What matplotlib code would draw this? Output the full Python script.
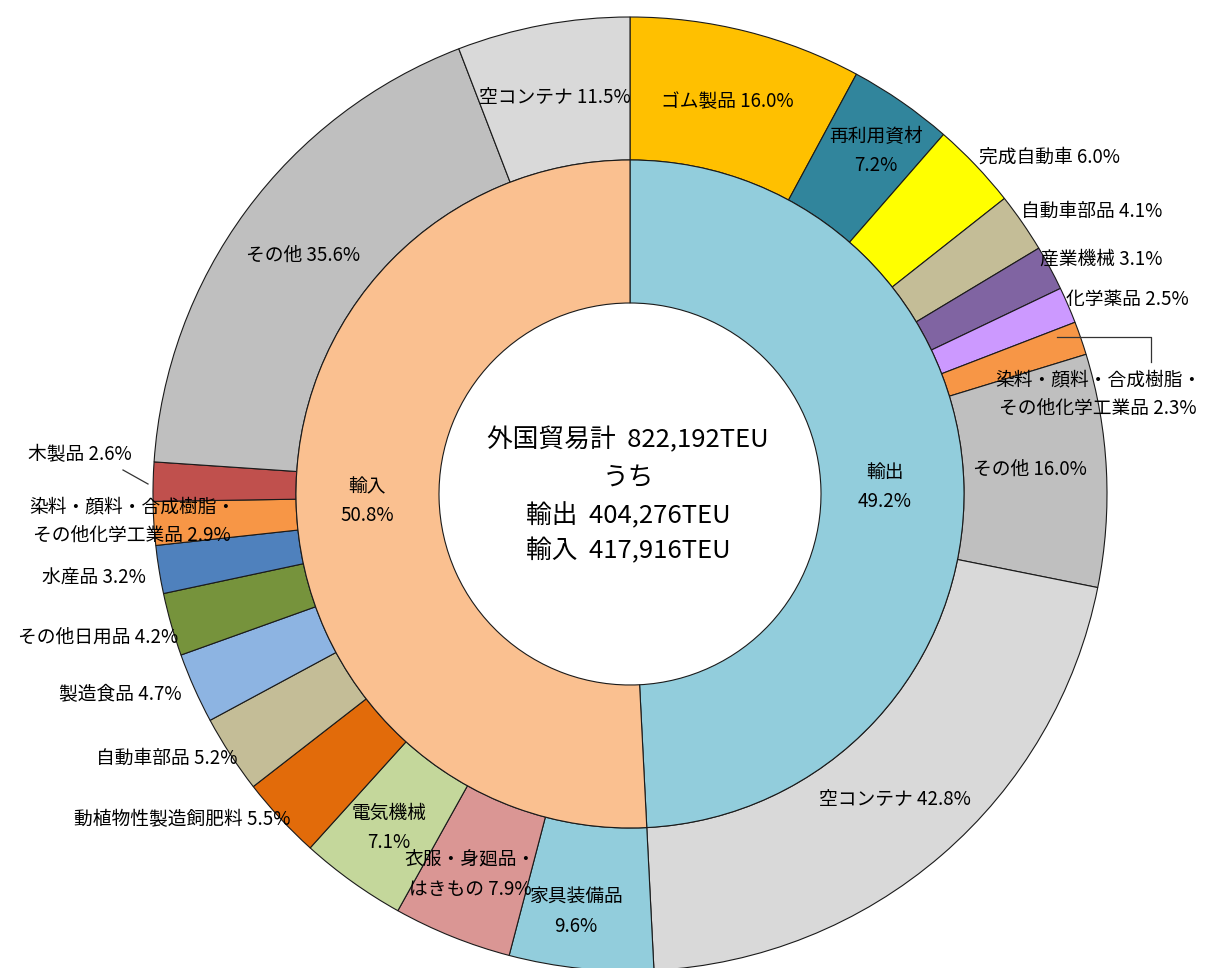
import matplotlib
matplotlib.use("Agg")
import matplotlib.pyplot as plt

plt.rcParams['font.family'] = ['Noto Sans CJK JP', 'DejaVu Sans']

# ---- data ----
inner_labels = ["輸出", "輸入"]
inner_values = [49.2, 50.8]
inner_colors = ["#92CDDC", "#FAC090"]

export_labels = ["ゴム製品", "再利用資材", "完成自動車", "自動車部品", "産業機械", "化学薬品",
                 "染料・顔料・合成樹脂・\nその他化学工業品", "その他", "空コンテナ"]
export_values = [16.0, 7.2, 6.0, 4.1, 3.1, 2.5, 2.3, 16.0, 42.8]
export_colors = ["#FFC000", "#31859C", "#FFFF00", "#C4BD97", "#8064A2", "#CC99FF",
                 "#F79646", "#BFBFBF", "#D9D9D9"]

import_labels = ["家具装備品", "衣服・身廻品・\nはきもの", "電気機械", "動植物性製造飼肥料", "自動車部品",
                 "製造食品", "その他日用品", "水産品", "染料・顔料・合成樹脂・\nその他化学工業品",
                 "木製品", "その他", "空コンテナ"]
import_values = [9.6, 7.9, 7.1, 5.5, 5.2, 4.7, 4.2, 3.2, 2.9, 2.6, 35.6, 11.5]
import_colors = ["#92CDDC", "#DA9694", "#C4D79B", "#E26B0A", "#C4BD97", "#8DB4E2",
                 "#76933C", "#4F81BD", "#F79646", "#C0504D", "#BFBFBF", "#D9D9D9"]

center_lines = ["外国貿易計  822,192TEU", "うち", "輸出  404,276TEU", "輸入  417,916TEU"]

# ---- layout (pixel coordinates, y from top) ----
H = 968
CX, CY = 630, 494
R_OUT, R_MID, R_HOLE = 477, 334, 191

def Y(y):
    return H - y

fig = plt.figure(figsize=(12.05, 9.68), dpi=100)
ax = fig.add_axes([0, 0, 1, 1])

outer_values = [v * inner_values[0] / 100 for v in export_values] + \
               [v * inner_values[1] / 100 for v in import_values]
outer_colors = export_colors + import_colors

wp = dict(edgecolor="#1a1a1a", linewidth=0.8)
ax.pie(outer_values, colors=outer_colors, startangle=90, counterclock=False,
       radius=R_OUT, center=(CX, Y(CY)), frame=True,
       wedgeprops=dict(width=R_OUT - R_MID, **wp))
ax.pie(inner_values, colors=inner_colors, startangle=90, counterclock=False,
       radius=R_MID, center=(CX, Y(CY)), frame=True,
       wedgeprops=dict(width=R_MID - R_HOLE, **wp))

ax.set_xlim(0, 1205)
ax.set_ylim(0, H)
ax.set_aspect('equal')
ax.axis('off')

FS = 13.5

def lab(text, x, y, ha="center"):
    ax.text(x, Y(y), text, ha=ha, va="center", fontsize=FS, color="black", linespacing=1.5)

def pct(v):
    return f"{v:.1f}%"

# inner labels
lab(f"{inner_labels[0]}\n{pct(inner_values[0])}", 885, 487)
lab(f"{inner_labels[1]}\n{pct(inner_values[1])}", 367, 501)

# export labels
e = export_labels; ev = export_values
lab(f"{e[0]} {pct(ev[0])}", 727, 102)
lab(f"{e[1]}\n{pct(ev[1])}", 876, 151)
lab(f"{e[2]} {pct(ev[2])}", 979, 157, ha="left")
lab(f"{e[3]} {pct(ev[3])}", 1021, 211, ha="left")
lab(f"{e[4]} {pct(ev[4])}", 1040, 259, ha="left")
lab(f"{e[5]} {pct(ev[5])}", 1066, 299, ha="left")
lab(f"{e[6]} {pct(ev[6])}", 1098, 394)
lab(f"{e[7]} {pct(ev[7])}", 1030, 469)
lab(f"{e[8]} {pct(ev[8])}", 895, 800)

# import labels
m = import_labels; mv = import_values
lab(f"{m[0]}\n{pct(mv[0])}", 576, 912)
lab(f"{m[1]} {pct(mv[1])}", 470, 875)
lab(f"{m[2]}\n{pct(mv[2])}", 389, 828)
lab(f"{m[3]} {pct(mv[3])}", 290, 820, ha="right")
lab(f"{m[4]} {pct(mv[4])}", 237, 758, ha="right")
lab(f"{m[5]} {pct(mv[5])}", 182, 695, ha="right")
lab(f"{m[6]} {pct(mv[6])}", 178, 637, ha="right")
lab(f"{m[7]} {pct(mv[7])}", 94, 578)
lab(f"{m[8]} {pct(mv[8])}", 132, 521)
lab(f"{m[9]} {pct(mv[9])}", 80, 455)
lab(f"{m[10]} {pct(mv[10])}", 303, 255)
lab(f"{m[11]} {pct(mv[11])}", 555, 97)

# leader lines
ax.plot([1057, 1151, 1151], [Y(337), Y(337), Y(362)], color="#333333", lw=0.9)
ax.plot([123, 148], [Y(470), Y(484)], color="#333333", lw=0.9)

# center text
for txt, yy in zip(center_lines, [440, 478, 516, 551]):
    ax.text(CX - 2, Y(yy), txt, ha="center", va="center", fontsize=18.5, color="black")

fig.savefig("out.png", dpi=100)
